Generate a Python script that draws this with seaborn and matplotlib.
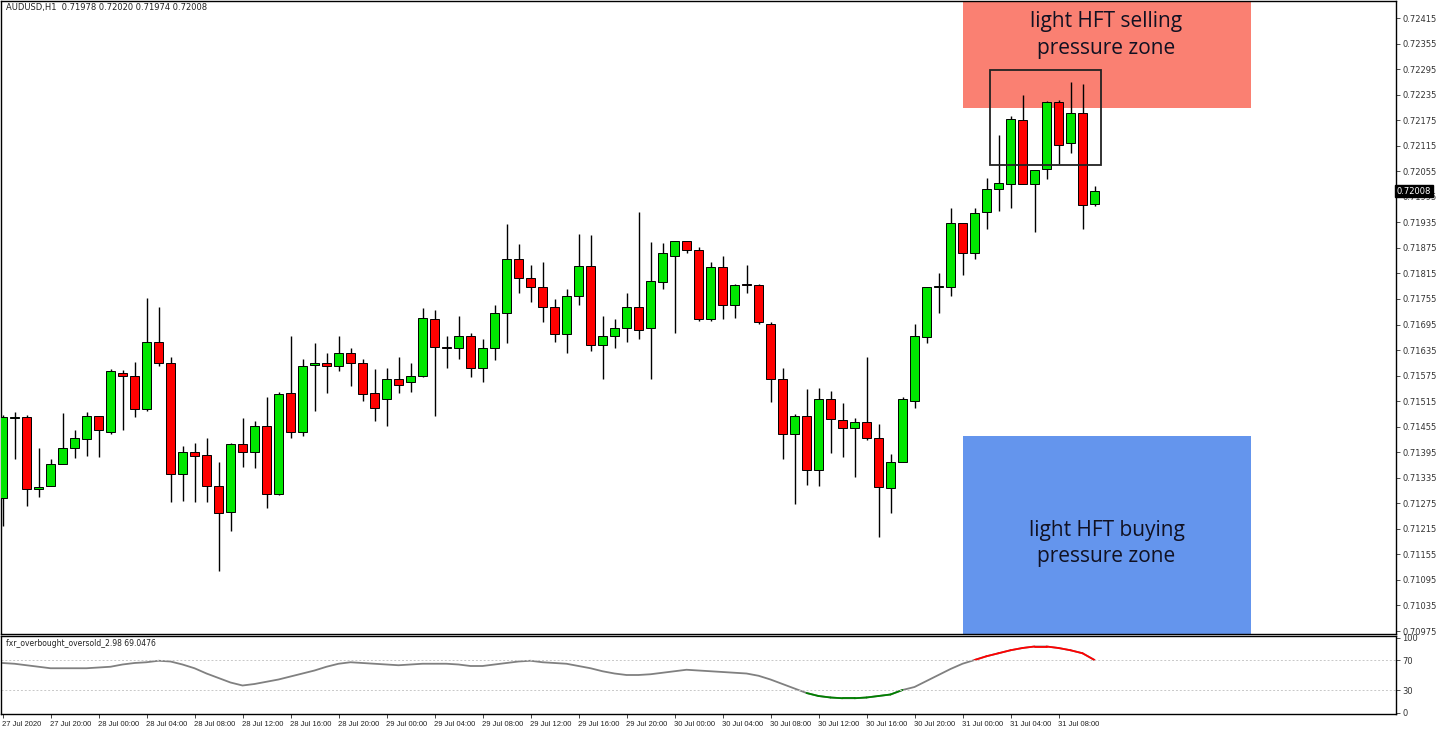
import numpy as np
import pandas as pd
import seaborn as sns
import matplotlib.pyplot as plt
from matplotlib.patches import Rectangle

# AUDUSD H1 candles, 27 Jul 2020 16:00 onwards
opens = [0.71287, 0.71475, 0.71477, 0.71308, 0.71315, 0.71367, 0.71404, 0.71425, 0.71479, 0.71442,
         0.71580, 0.71573, 0.71496, 0.71655, 0.71604, 0.71343, 0.71395, 0.71388, 0.71315, 0.71254,
         0.71414, 0.71395, 0.71456, 0.71296, 0.71533, 0.71442, 0.71601, 0.71604, 0.71597, 0.71629,
         0.71604, 0.71533, 0.71519, 0.71568, 0.71559, 0.71573, 0.71709, 0.71643, 0.71641, 0.71667,
         0.71594, 0.71641, 0.71723, 0.71848, 0.71805, 0.71784, 0.71735, 0.71672, 0.71761, 0.71833,
         0.71646, 0.71667, 0.71686, 0.71735, 0.71686, 0.71794, 0.71857, 0.71892, 0.71869, 0.71709,
         0.71829, 0.71742, 0.71791, 0.71787, 0.71697, 0.71566, 0.71437, 0.71479, 0.71353, 0.71519,
         0.71470, 0.71451, 0.71465, 0.71428, 0.71311, 0.71371, 0.71515, 0.71665, 0.71784, 0.71784,
         0.71934, 0.71864, 0.71960, 0.72014, 0.72026, 0.72176, 0.72026, 0.72061, 0.72218, 0.72122,
         0.72192, 0.71978]
highs = [0.71482, 0.71489, 0.71482, 0.71404, 0.71379, 0.71486, 0.71447, 0.71489, 0.71479, 0.71590,
         0.71587, 0.71608, 0.71758, 0.71737, 0.71618, 0.71409, 0.71416, 0.71428, 0.71371, 0.71416,
         0.71475, 0.71468, 0.71524, 0.71536, 0.71667, 0.71615, 0.71651, 0.71629, 0.71667, 0.71641,
         0.71613, 0.71590, 0.71594, 0.71618, 0.71604, 0.71733, 0.71730, 0.71667, 0.71716, 0.71674,
         0.71660, 0.71740, 0.71932, 0.71883, 0.71836, 0.71843, 0.71756, 0.71779, 0.71908, 0.71906,
         0.71716, 0.71709, 0.71770, 0.71960, 0.71890, 0.71887, 0.71892, 0.71892, 0.71876, 0.71843,
         0.71855, 0.71791, 0.71836, 0.71791, 0.71700, 0.71592, 0.71484, 0.71543, 0.71547, 0.71540,
         0.71510, 0.71475, 0.71618, 0.71461, 0.71390, 0.71524, 0.71697, 0.71784, 0.71815, 0.71969,
         0.71934, 0.71969, 0.72040, 0.72141, 0.72185, 0.72234, 0.72059, 0.72220, 0.72223, 0.72265,
         0.72260, 0.72020]
lows = [0.71221, 0.71379, 0.71268, 0.71289, 0.71315, 0.71367, 0.71381, 0.71386, 0.71383, 0.71439,
        0.71447, 0.71477, 0.71491, 0.71597, 0.71278, 0.71280, 0.71278, 0.71278, 0.71116, 0.71210,
        0.71360, 0.71357, 0.71264, 0.71294, 0.71428, 0.71432, 0.71493, 0.71533, 0.71585, 0.71550,
        0.71515, 0.71468, 0.71456, 0.71533, 0.71536, 0.71571, 0.71479, 0.71594, 0.71615, 0.71571,
        0.71561, 0.71611, 0.71651, 0.71768, 0.71747, 0.71702, 0.71655, 0.71629, 0.71742, 0.71632,
        0.71568, 0.71641, 0.71653, 0.71660, 0.71568, 0.71779, 0.71676, 0.71862, 0.71704, 0.71704,
        0.71709, 0.71711, 0.71770, 0.71697, 0.71512, 0.71379, 0.71273, 0.71318, 0.71315, 0.71393,
        0.71383, 0.71336, 0.71423, 0.71196, 0.71252, 0.71371, 0.71498, 0.71651, 0.71723, 0.71761,
        0.71812, 0.71848, 0.71920, 0.71962, 0.71969, 0.72026, 0.71913, 0.72037, 0.72073, 0.72098,
        0.71920, 0.71974]
closes = [0.71477, 0.71478, 0.71308, 0.71313, 0.71367, 0.71404, 0.71428, 0.71479, 0.71447, 0.71585,
          0.71573, 0.71496, 0.71653, 0.71604, 0.71343, 0.71395, 0.71386, 0.71315, 0.71252, 0.71414,
          0.71395, 0.71456, 0.71296, 0.71531, 0.71442, 0.71597, 0.71604, 0.71597, 0.71629, 0.71604,
          0.71531, 0.71500, 0.71568, 0.71554, 0.71575, 0.71711, 0.71643, 0.71639, 0.71667, 0.71594,
          0.71639, 0.71723, 0.71848, 0.71805, 0.71782, 0.71735, 0.71672, 0.71761, 0.71833, 0.71646,
          0.71667, 0.71686, 0.71737, 0.71683, 0.71798, 0.71864, 0.71892, 0.71869, 0.71709, 0.71829,
          0.71740, 0.71789, 0.71787, 0.71700, 0.71566, 0.71437, 0.71479, 0.71353, 0.71519, 0.71472,
          0.71451, 0.71465, 0.71428, 0.71313, 0.71371, 0.71519, 0.71667, 0.71782, 0.71785, 0.71934,
          0.71864, 0.71958, 0.72014, 0.72028, 0.72178, 0.72026, 0.72059, 0.72218, 0.72117, 0.72192,
          0.71976, 0.72008]

# fxr_overbought_oversold indicator
osc = [66, 65, 63, 61, 59, 59, 59, 59, 60, 61, 64, 66, 67, 69, 68, 64, 59, 52, 46, 40,
       36, 38, 41, 44, 48, 52, 56, 61, 65, 67, 66, 65, 64, 63, 64, 65, 65, 65, 64, 62,
       62, 64, 66, 68, 69, 67, 66, 65, 62, 59, 55, 52, 50, 50, 51, 53, 55, 57, 56, 55,
       54, 53, 52, 49, 44, 38, 32, 26, 22, 20, 19, 19, 20, 22, 24, 30, 34, 42, 50, 58,
       65, 70, 75, 79, 83, 86, 88, 88, 86, 83, 79, 70]

price_ticks = [round(0.72415 - 0.0006 * k, 5) for k in range(25)]
times = pd.date_range('2020-07-27 16:00', periods=len(opens), freq='h')

df = pd.DataFrame({'t': np.arange(len(opens)), 'open': opens, 'high': highs,
                   'low': lows, 'close': closes, 'osc': osc})
up = df['close'] >= df['open']

sns.set_theme(style='white')
plt.rcParams['font.family'] = ['DejaVu Sans']
small = ['Liberation Sans Narrow', 'Liberation Sans', 'DejaVu Sans']

fig = plt.figure(figsize=(14.37, 7.29), dpi=100)
W, H = 1437, 729
ax = fig.add_axes([0.5 / W, 1 - 634 / H, 1395 / W, 633 / H])
ax2 = fig.add_axes([0.5 / W, 1 - 714 / H, 1395 / W, 78 / H])

xlim = (-1 / 6, 1393 / 12)
for a in (ax, ax2):
    a.set_xlim(*xlim)
    for s in a.spines.values():
        s.set_color('black')
        s.set_linewidth(1)
    a.yaxis.tick_right()
    a.tick_params(axis='y', length=3, width=0.6, labelsize=6, colors='#333333', pad=2, right=True)

# zones
ax.add_patch(Rectangle((80, 0.72204), 24, 0.0030, color='#FA8072', zorder=0, lw=0))
ax.add_patch(Rectangle((80, 0.70900), 24, 0.71432 - 0.70900, color='#6495ED', zorder=0, lw=0))
ax.add_patch(Rectangle((82.25, 0.72070), 9.25, 0.72293 - 0.72070, fill=False, ec='#222222', lw=1.3, zorder=5))

# candles
ax.vlines(df['t'], df['low'], df['high'], color='black', lw=1, zorder=2)
body_lo = np.minimum(df['open'], df['close'])
body_h = np.maximum(np.abs(df['close'] - df['open']), 0.000015)
ax.bar(df['t'], body_h, bottom=body_lo, width=0.68,
       color=np.where(up, '#00E600', '#FF0000'), edgecolor='black', linewidth=0.7, zorder=3)

ax.set_ylim(0.70968, 0.72455)
ax.set_yticks(price_ticks)
ax.set_yticklabels([f'{p:.5f}' for p in price_ticks])
ax.set_xticks([])
ax.text(1.001, 0.72008, '0.72008', transform=ax.get_yaxis_transform(), fontsize=6,
        color='white', va='center', ha='left', bbox=dict(fc='black', ec='black', pad=1.2))
ax.text(0.004, 0.997, 'AUDUSD,H1  0.71978 0.72020 0.71974 0.72008', transform=ax.transAxes,
        fontsize=6, va='top', ha='left', color='#222222')

ax.text(92, 0.72375, 'light HFT selling\npressure zone', ha='center', va='center',
        fontsize=15, family=['Open Sans', 'DejaVu Sans'], color='#111122', linespacing=1.35)
ax.text(92, 0.71181, 'light HFT buying\npressure zone', ha='center', va='center',
        fontsize=15, family=['Open Sans', 'DejaVu Sans'], color='#111122', linespacing=1.35)

# indicator
sns.lineplot(data=df, x='t', y='osc', ax=ax2, color='#808080', lw=1.3)
vals = df['osc'].to_numpy()
for i in range(len(vals) - 1):
    if vals[i] >= 70 and vals[i + 1] >= 70:
        ax2.plot(df['t'][i:i + 2], vals[i:i + 2], color='#FF0000', lw=1.3)
    elif vals[i] <= 30 and vals[i + 1] <= 30:
        ax2.plot(df['t'][i:i + 2], vals[i:i + 2], color='#008000', lw=1.3)
for lvl in (70, 30):
    ax2.axhline(lvl, color='#c8c8c8', ls=(0, (2, 2)), lw=0.7)
ax2.set_ylim(-2, 102)
ax2.set_yticks([0, 30, 70, 100])
ax2.set_xlabel('')
ax2.set_ylabel('')
ax2.text(0.004, 0.96, 'fxr_overbought_oversold_2.98 69.0476', transform=ax2.transAxes,
         fontsize=5.5, va='top', ha='left', color='#222222')

ticks = list(range(0, len(opens), 4))
labels = []
for i in ticks:
    t = times[i]
    labels.append('27 Jul 2020' if i == 0 else f'{t.day} Jul {t:%H:%M}')
ax2.set_xticks(ticks)
ax2.set_xticklabels(labels, fontsize=5.5, ha='left', color='#222222', family=small)
ax2.tick_params(axis='x', length=3, width=0.6, pad=2, bottom=True)

fig.savefig('out.png', dpi=100)
